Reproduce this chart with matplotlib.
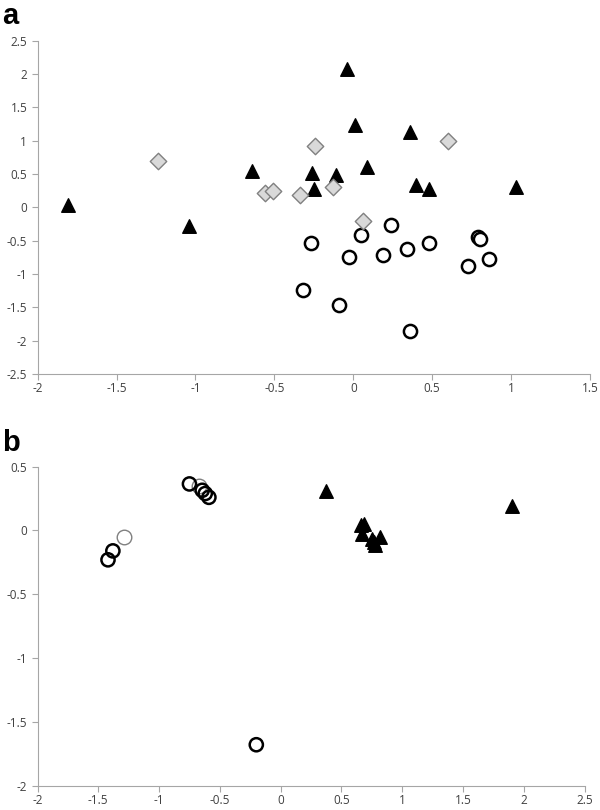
import numpy as np
import matplotlib.pyplot as plt

plt.rcParams['font.family'] = ['Open Sans', 'DejaVu Sans']

# Panel a
a_tri_x = [-1.81, -1.04, -0.64, -0.04, 0.01, 0.36, -0.26, -0.11, 0.09, -0.25, 0.40, 0.48, 1.03]
a_tri_y = [0.03, -0.28, 0.54, 2.07, 1.24, 1.13, 0.52, 0.49, 0.61, 0.28, 0.33, 0.28, 0.30]
a_dia_x = [-1.24, -0.56, -0.51, -0.34, -0.24, -0.13, 0.06, 0.60]
a_dia_y = [0.69, 0.21, 0.24, 0.19, 0.92, 0.30, -0.21, 0.99]
a_circ_x = [0.24, 0.05, -0.27, -0.03, 0.19, 0.34, 0.48, 0.79, 0.80, 0.73, 0.86, -0.32, -0.09, 0.36]
a_circ_y = [-0.27, -0.41, -0.53, -0.74, -0.71, -0.63, -0.53, -0.44, -0.48, -0.88, -0.78, -1.24, -1.46, -1.86]

# Panel b
b_tri_x = [0.37, 1.90, 0.66, 0.69, 0.67, 0.75, 0.82, 0.78, 0.77]
b_tri_y = [0.31, 0.19, 0.04, 0.05, -0.03, -0.07, -0.05, -0.11, -0.09]
b_grey_x = [-0.67, -1.29]
b_grey_y = [0.35, -0.05]
b_circ_x = [-0.75, -0.645, -0.62, -0.59, -1.38, -1.42, -0.20]
b_circ_y = [0.365, 0.315, 0.29, 0.26, -0.16, -0.23, -1.68]

axis_col = '#a6a6a6'
text_col = '#404040'

fig = plt.figure(figsize=(6, 8.1), dpi=100)
ax1 = fig.add_axes([0.0628, 0.5383, 0.9205, 0.4115])
ax2 = fig.add_axes([0.0625, 0.0302, 0.9117, 0.3936])


def style(ax):
    for s in ['top', 'right']:
        ax.spines[s].set_visible(False)
    for s in ['left', 'bottom']:
        ax.spines[s].set_color(axis_col)
        ax.spines[s].set_linewidth(0.8)
    ax.tick_params(colors=axis_col, labelcolor=text_col, labelsize=8.5,
                   length=4, width=0.8, direction='out')
    ax.tick_params(axis='x', pad=2)


def fmt(v):
    return ('%g' % v)


# a
ax1.scatter(a_circ_x, a_circ_y, s=90, facecolors='white', edgecolors='black',
            linewidths=1.8, zorder=3)
ax1.scatter(a_tri_x, a_tri_y, s=95, marker='^', color='black', zorder=4)
ax1.scatter(a_dia_x, a_dia_y, s=70, marker='D', facecolors='#d9d9d9',
            edgecolors='#808080', linewidths=1.0, zorder=4)
ax1.set_xlim(-2, 1.5)
ax1.set_ylim(-2.5, 2.5)
xt = np.arange(-2, 1.51, 0.5)
yt = np.arange(-2.5, 2.51, 0.5)
ax1.set_xticks(xt)
ax1.set_xticklabels([fmt(v) for v in xt])
ax1.set_yticks(yt)
ax1.set_yticklabels([fmt(v) for v in yt])
style(ax1)

# b
ax2.scatter(b_grey_x, b_grey_y, s=110, facecolors='white', edgecolors='#808080',
            linewidths=1.0, zorder=2)
ax2.scatter(b_circ_x, b_circ_y, s=90, facecolors='none', edgecolors='black',
            linewidths=1.8, zorder=3)
ax2.scatter(b_tri_x, b_tri_y, s=95, marker='^', color='black', zorder=4)
ax2.set_xlim(-2, 2.5)
ax2.set_ylim(-2, 0.5)
xt = np.arange(-2, 2.51, 0.5)
yt = np.arange(-2, 0.51, 0.5)
ax2.set_xticks(xt)
ax2.set_xticklabels([fmt(v) for v in xt])
ax2.set_yticks(yt)
ax2.set_yticklabels([fmt(v) for v in yt])
style(ax2)

fig.text(0.003, 0.997, 'a', fontsize=21, fontweight='bold', family='Liberation Sans',
         va='top', ha='left')
fig.text(0.003, 0.470, 'b', fontsize=21, fontweight='bold', family='Liberation Sans',
         va='top', ha='left')

fig.savefig('out.png', dpi=100)
